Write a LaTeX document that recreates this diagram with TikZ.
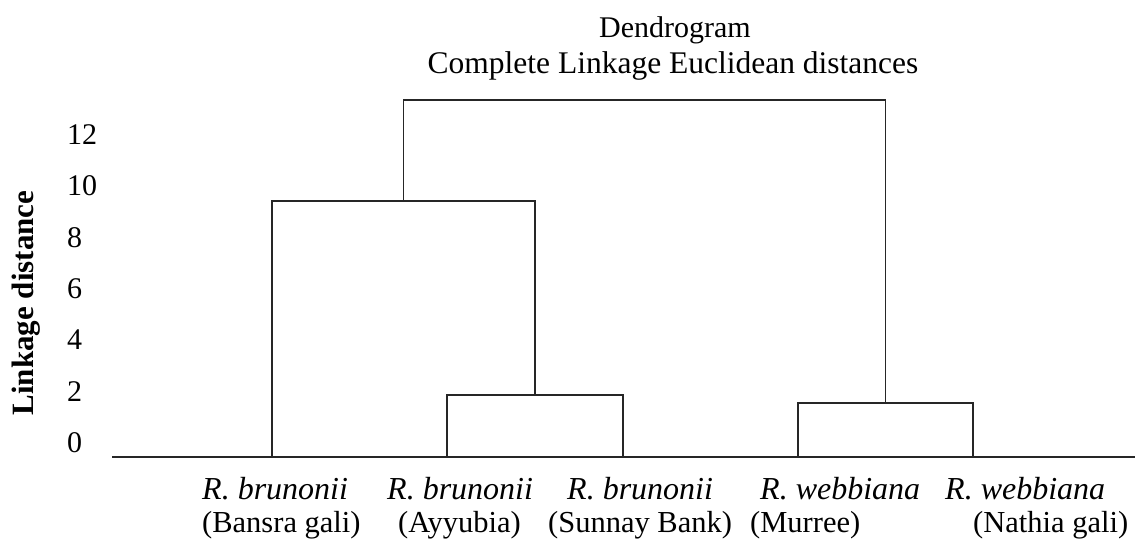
\documentclass[tikz,border=0pt]{standalone}
\usepackage{fontspec}
\setmainfont{Liberation Serif}
\usepackage{tikz}

\begin{document}
\begin{tikzpicture}[x=1pt, y=-1pt,
    every node/.style={inner sep=0pt, font=\fontsize{30}{34}\selectfont},
    branch/.style={line width=1.6pt, black!85},
    species/.style={anchor=base west, font=\itshape\fontsize{32}{34}\selectfont},
    site/.style={anchor=base west, font=\fontsize{30.5}{34}\selectfont}]
  \useasboundingbox (0,0) rectangle (1135,539);

  % Title
  \node[anchor=base] (title) at (675,37) {Dendrogram};
  \node[anchor=base, font=\fontsize{31.5}{34}\selectfont] (subtitle) at (673,73) {Complete Linkage Euclidean distances};

  % Axis label and ticks
  \node[rotate=90, font=\bfseries\fontsize{31}{34}\selectfont] (ylabel) at (26,303) {Linkage distance};
  \foreach \v/\y in {0/452, 2/401, 4/349, 6/298, 8/247, 10/195, 12/144}
    \node[anchor=base west] (t\v) at (67,\y) {\v};

  % Baseline
  \coordinate (axl) at (112,457);
  \coordinate (axr) at (1135,457);
  \draw[line width=2.6pt, black!85] (axl) -- (axr);

  % Leaves (on the baseline)
  \coordinate (bg) at (272,457);
  \coordinate (ay) at (447,457);
  \coordinate (sb) at (623,457);
  \coordinate (mu) at (798,457);
  \coordinate (ng) at (973,457);

  % Merge points
  \coordinate (k1) at (535,395);
  \coordinate (k2) at (885.5,403);
  \coordinate (k3) at (403.5,201);
  \coordinate (k4) at (644,100);

  % Clusters
  \draw[branch] (ay) |- (k1) -| (sb);
  \draw[branch] (mu) |- (k2) -| (ng);
  \draw[branch] (bg) |- (k3) -| (k1);
  \draw[branch] (k3) |- (k4) -| (k2);

  % Leaf names
  \node[species] (n1) at (202,499) {R. brunonii};
  \node[site] (p1) at (202,532) {(Bansra gali)};
  \node[species] (n2) at (387,499) {R. brunonii};
  \node[site] (p2) at (398,532) {(Ayyubia)};
  \node[species] (n3) at (567,499) {R. brunonii};
  \node[site] (p3) at (548,532) {(Sunnay Bank)};
  \node[species] (n4) at (760,499) {R. webbiana};
  \node[site] (p4) at (750,532) {(Murree)};
  \node[species] (n5) at (945,499) {R. webbiana};
  \node[site] (p5) at (973,532) {(Nathia gali)};

\end{tikzpicture}
\end{document}
